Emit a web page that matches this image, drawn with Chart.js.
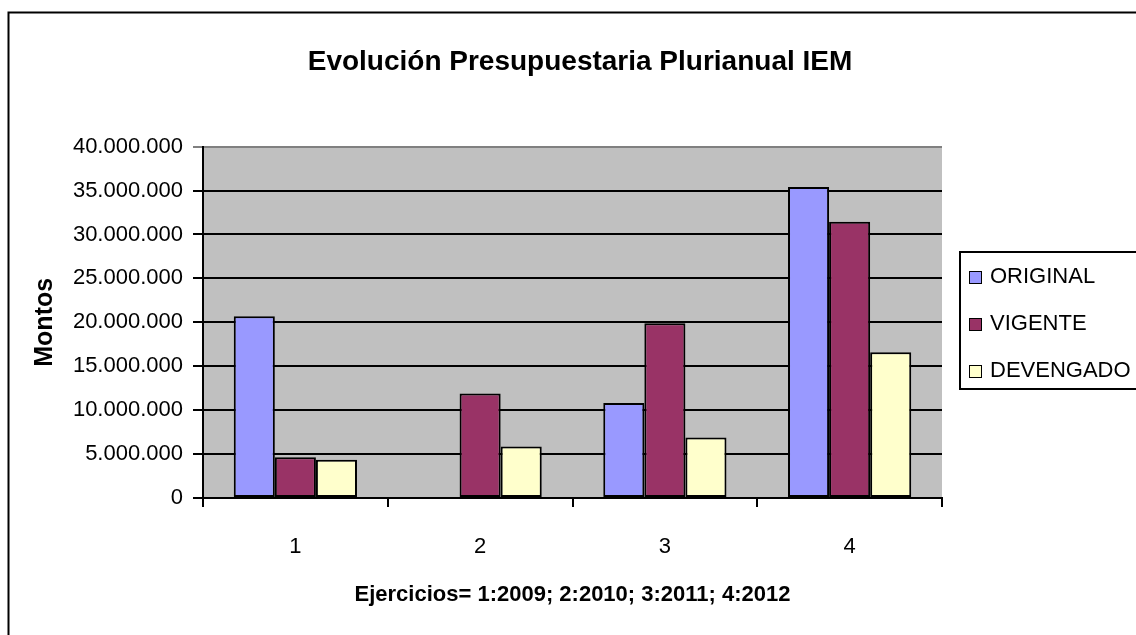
<!DOCTYPE html>
<html lang="es">
<head>
    <meta charset="UTF-8">
    <title>Evolución Presupuestaria Plurianual IEM</title>
    <script src="https://cdn.jsdelivr.net/npm/chart.js"></script>
    <style>
        * { margin: 0; padding: 0; box-sizing: border-box; }
        body { background: #fff; }
        .chart-container { position: relative; width: 1136px; height: 635px; }
    </style>
</head>
<body>
    <div class="chart-container">
        <canvas id="budgetChart"></canvas>
    </div>

    <script>
        // Datos
        const categories = ['1', '2', '3', '4'];
        const original = [20700000, null, 10800000, 35400000];
        const vigente = [4650000, 11900000, 19900000, 31450000];
        const devengado = [4350000, 5850000, 6900000, 16600000];
        const seriesNames = ['ORIGINAL', 'VIGENTE', 'DEVENGADO'];
        const seriesColors = ['#9999FF', '#993366', '#FFFFCC'];

        const FONT = "'Liberation Sans', Arial, sans-serif";
        Chart.defaults.font.family = FONT;
        Chart.defaults.color = '#000';

        const fmt = v => v.toString().replace(/\B(?=(\d{3})+(?!\d))/g, '.');

        // fondo blanco, área gris y marco exterior
        const background = {
            id: 'background',
            beforeDraw(chart) {
                const { ctx, chartArea: a } = chart;
                ctx.save();
                ctx.fillStyle = '#fff';
                ctx.fillRect(0, 0, chart.width, chart.height);
                ctx.fillStyle = '#C0C0C0';
                ctx.fillRect(a.left, a.top, a.right - a.left, a.bottom - a.top);
                ctx.restore();
            },
            afterDraw(chart) {
                const ctx = chart.ctx;
                ctx.save();
                ctx.strokeStyle = '#000';
                ctx.lineWidth = 2;
                ctx.beginPath();
                ctx.moveTo(8.5, chart.height);
                ctx.lineTo(8.5, 12.5);
                ctx.lineTo(chart.width, 12.5);
                ctx.stroke();
                ctx.restore();
            }
        };

        // leyenda con recuadro a la derecha
        const boxLegend = {
            id: 'boxLegend',
            afterDraw(chart) {
                const ctx = chart.ctx;
                const x = chart.chartArea.right + 18;
                ctx.save();
                ctx.fillStyle = '#fff';
                ctx.fillRect(x, 252, chart.width - x + 5, 137);
                ctx.strokeStyle = '#000';
                ctx.lineWidth = 2;
                ctx.strokeRect(x, 252, chart.width - x + 5, 137);
                ctx.font = '22px ' + FONT;
                ctx.textBaseline = 'middle';
                chart.data.datasets.forEach((ds, i) => {
                    const cy = 277 + i * 47;
                    ctx.fillStyle = ds.backgroundColor;
                    ctx.fillRect(x + 9, cy - 6, 13, 13);
                    ctx.lineWidth = 1;
                    ctx.strokeRect(x + 9.5, cy - 5.5, 12, 12);
                    ctx.fillStyle = '#000';
                    ctx.fillText(ds.label, x + 30, cy);
                });
                ctx.restore();
            }
        };

        const datasets = [original, vigente, devengado].map((data, i) => ({
            label: seriesNames[i],
            data: data,
            backgroundColor: seriesColors[i],
            borderColor: '#000',
            borderWidth: 2,
            borderSkipped: false,
            categoryPercentage: 0.667,
            barPercentage: 1
        }));

        new Chart(document.getElementById('budgetChart'), {
            type: 'bar',
            data: { labels: categories, datasets: datasets },
            options: {
                responsive: true,
                maintainAspectRatio: false,
                animation: false,
                layout: { padding: { left: 24, right: 0, top: 0, bottom: 0 } },
                plugins: {
                    legend: { display: false },
                    tooltip: { enabled: false },
                    title: {
                        display: true,
                        text: 'Evolución Presupuestaria Plurianual IEM',
                        font: { size: 28, weight: 'bold' },
                        color: '#000',
                        padding: { top: 45, bottom: 68 }
                    }
                },
                scales: {
                    y: {
                        min: 0,
                        max: 40000000,
                        ticks: {
                            stepSize: 5000000,
                            font: { size: 22 },
                            padding: 10,
                            callback: v => fmt(v)
                        },
                        grid: {
                            color: c => c.tick && c.tick.value === 40000000 ? '#808080' : '#000',
                            lineWidth: 2,
                            tickLength: 10
                        },
                        border: { color: '#000', width: 2 },
                        title: {
                            display: true,
                            text: 'Montos',
                            font: { size: 25, weight: 'bold' },
                            padding: { top: 6, bottom: 0 }
                        },
                        afterFit(scale) { scale.width = 179; }
                    },
                    // espacio reservado para la leyenda
                    legendSpace: {
                        type: 'linear',
                        position: 'right',
                        ticks: { display: false },
                        grid: { display: false },
                        border: { display: false },
                        afterFit(scale) { scale.width = 194; }
                    },
                    x: {
                        ticks: { font: { size: 22 }, padding: 27 },
                        grid: {
                            drawOnChartArea: false,
                            color: '#000',
                            lineWidth: 2,
                            tickLength: 9
                        },
                        border: { color: '#000', width: 2 },
                        title: {
                            display: true,
                            text: 'Ejercicios= 1:2009; 2:2010; 3:2011; 4:2012',
                            font: { size: 22, weight: 'bold' },
                            padding: { top: 21, bottom: 27 }
                        },
                        afterFit(scale) { scale.height = 137; }
                    }
                }
            },
            plugins: [background, boxLegend]
        });
    </script>
</body>
</html>
